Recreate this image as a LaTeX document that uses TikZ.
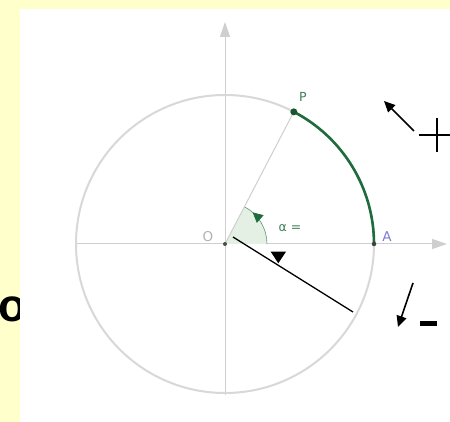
\documentclass[tikz,border=0pt]{standalone}
\usepackage{fontspec}
\setmainfont{DejaVu Sans}
\newfontfamily\arialb{Liberation Sans}
\usetikzlibrary{arrows.meta,decorations.markings,calc}
\definecolor{bgyellow}{HTML}{FFFFCC}
\definecolor{ggreen}{HTML}{1E6B3C}
\definecolor{lgreen}{HTML}{E3F0E3}
\definecolor{cgray}{HTML}{D8D8D8}
\definecolor{agray}{HTML}{CFCFCF}
\definecolor{alabel}{HTML}{7B7BD6}
\tikzset{
  axis/.style={agray, line width=1pt, -{Triangle[length=15pt,width=10pt]}},
  blackarrow/.style={black, line width=1.6pt, -{Triangle[length=11pt,width=10pt]}},
  dotpt/.style={circle, inner sep=0pt, minimum size=#1},
  lbl/.style={inner sep=0pt, font=\fontsize{12.5}{14}\selectfont}
}
\begin{document}
\begin{tikzpicture}[x=1pt,y=1pt]
\useasboundingbox (0,0) rectangle (450,422);
\clip (0,0) rectangle (450,422);
\fill[bgyellow] (0,0) rectangle (450,422);
\node[inner sep=0pt, font=\arialb\bfseries\fontsize{46}{50}\selectfont] (obig) at (13,113) {o};
\fill[white] (20,0) rectangle (450,413);
\coordinate (O) at (225,178);
\coordinate (A) at (374,178);
\coordinate (P) at ($(O)+(62.5:149)$);
% axes
\coordinate (xl) at (76,178);
\coordinate (xr) at (447,178);
\coordinate (yb) at (225,27);
\coordinate (yt) at (225,400);
\draw[axis] (xl) -- (xr);
\draw[axis] (yb) -- (yt);
% circle
\draw[cgray, line width=2pt] (O) circle (149);
% angle sector
\fill[lgreen] (O) -- ++(0:42) arc (0:62.5:42) -- cycle;
\draw[ggreen!70, line width=0.6pt, postaction={decorate},
  decoration={markings, mark=at position 0.78 with {\arrow[ggreen]{Triangle[length=10pt,width=10pt]}}}]
  ($(O)+(42,0)$) arc (0:62.5:42);
% OP segment
\draw[agray, line width=1pt] (O) -- (P);
% green arc
\draw[ggreen, line width=2.6pt] (A) arc (0:62.5:149);
% dots
\node[dotpt=4pt, fill=black!70] (Od) at (O) {};
\node[dotpt=4.5pt, fill=black!75] (Ad) at (A) {};
\node[dotpt=7pt, fill=ggreen!80!black] (Pd) at (P) {};
% labels
\node[lbl, text=ggreen!85] (Pl) at (303,325) {P};
\node[lbl, text=black!30, font=\fontsize{13.5}{15}\selectfont] (Ol) at (208,185) {O};
\node[lbl, text=alabel, font=\fontsize{13.5}{15}\selectfont] (Al) at (387,185) {A};
\node[lbl, text=ggreen!85] (al) at (290,194) {α =};
% black line and triangle
\coordinate (b1) at (233,185);
\coordinate (b2) at (353,110);
\draw[black, line width=1.3pt] (b1) -- (b2);
\fill[black] (270.7,170.3) -- (286,170.3) -- (278.3,158.7) -- cycle;
% plus arrow
\coordinate (pt1) at (414,291);
\coordinate (pt2) at (384,321);
\draw[blackarrow] (pt1) -- (pt2);
\draw[black, line width=1.6pt] (419,287) -- (458,287);
\draw[black, line width=1.6pt] (437,270) -- (437,304);
% minus arrow
\coordinate (mt1) at (413,139);
\coordinate (mt2) at (398,95);
\draw[blackarrow] (mt1) -- (mt2);
\fill[black] (420,96) rectangle (437,101);
\end{tikzpicture}
\end{document}
